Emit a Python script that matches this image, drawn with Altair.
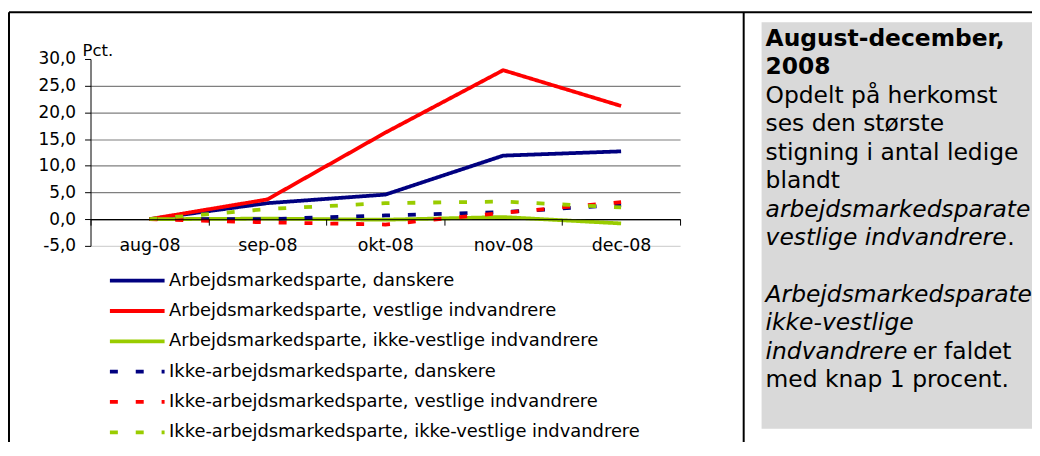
import altair as alt
import pandas as pd

# ---------------- data ----------------
months = ["aug-08", "sep-08", "okt-08", "nov-08", "dec-08"]
series = [
    "Arbejdsmarkedsparte, danskere",
    "Arbejdsmarkedsparte, vestlige indvandrere",
    "Arbejdsmarkedsparte, ikke-vestlige indvandrere",
    "Ikke-arbejdsmarkedsparte, danskere",
    "Ikke-arbejdsmarkedsparte, vestlige indvandrere",
    "Ikke-arbejdsmarkedsparte, ikke-vestlige indvandrere",
]
a_danskere = [0.0, 3.0, 4.6, 11.9, 12.7]
a_vestlige = [0.0, 3.7, 16.2, 27.9, 21.2]
a_ikke_vestlige = [0.0, 0.1, -0.1, 0.4, -0.8]
i_danskere = [0.0, 0.0, 0.7, 1.3, 2.7]
i_vestlige = [0.0, -0.6, -1.0, 1.2, 3.2]
i_ikke_vestlige = [0.0, 1.9, 3.0, 3.3, 2.2]
y_ticks = [-5, 0, 5, 10, 15, 20, 25, 30]

panel_lines = [
    "August-december,", "2008", "Opdelt på herkomst", "ses den største",
    "stigning i antal ledige", "blandt", "arbejdsmarkedsparate",
    "vestlige indvandrere", "", "Arbejdsmarkedsparate", "ikke-vestlige",
    "indvandrere", "med knap 1 procent.",
]
panel_styles = ["bold", "bold", "normal", "normal", "normal", "normal", "italic",
                "italic", "normal", "italic", "italic", "italic", "normal"]

all_values = [a_danskere, a_vestlige, a_ikke_vestlige, i_danskere, i_vestlige, i_ikke_vestlige]
rows = []
for s, vals in zip(series, all_values):
    for m, v in zip(months, vals):
        rows.append({"series": s, "month": m, "value": v})
df = pd.DataFrame(rows)

# ---------------- layout ----------------
FONT = "DejaVu Sans"
W, H = 593, 188
ZERO_OFF = H * 5 / 35

colors = ["#000080", "#ff0000", "#99cc00", "#000080", "#ff0000", "#99cc00"]
dashes = [[1, 0], [1, 0], [1, 0], [8, 18], [8, 18], [8, 18]]
widths = [3.8, 3.8, 3.8, 6, 6, 6]

legend = alt.Legend(
    title=None, orient="none", legendX=16, legendY=214,
    symbolType="M-1,0H9", symbolSize=121, symbolStrokeWidth=4.5,
    labelFont=FONT, labelFontSize=18, labelColor="black", labelLimit=0,
    labelOffset=45, rowPadding=12.5, padding=0,
)

lines = alt.Chart(df).mark_line(strokeCap="butt", strokeJoin="round").encode(
    x=alt.X(
        "month:O", sort=months, bandPosition=0.5,
        scale=alt.Scale(type="band", paddingInner=0, paddingOuter=0),
        axis=alt.Axis(
            orient="bottom", offset=-ZERO_OFF, title=None, labelAngle=0,
            domainColor="black", domainWidth=1, tickColor="black", tickSize=6,
            tickBand="extent", labelPadding=12, labelFont=FONT, labelFontSize=17.5,
            labelColor="black", grid=False, zindex=2,
        ),
    ),
    y=alt.Y(
        "value:Q",
        scale=alt.Scale(domain=[-5, 30], nice=False, zero=False),
        axis=alt.Axis(
            values=y_ticks, title=None,
            labelExpr="replace(replace(format(datum.value, '.1f'), '.', ','), '\u2212', '-')",
            labelFont=FONT, labelFontSize=17, labelColor="black", labelPadding=9,
            tickColor="black", tickSize=6, domainColor="black",
            gridColor={"condition": [
                {"test": "datum.value === 30", "value": "transparent"},
                {"test": "datum.value === -5", "value": "#d4d4d4"},
                {"test": "datum.value === 0", "value": "black"},
            ], "value": "#7f7f7f"},
            gridWidth=1.2,
        ),
    ),
    color=alt.Color("series:N", sort=series, scale=alt.Scale(domain=series, range=colors), legend=legend),
    strokeDash=alt.StrokeDash("series:N", sort=series, scale=alt.Scale(domain=series, range=dashes), legend=legend),
    strokeWidth=alt.StrokeWidth("series:N", sort=series, scale=alt.Scale(domain=series, range=widths), legend=None),
)

dummy = pd.DataFrame({"k": [0]})

# grey text box
box = alt.Chart(dummy).mark_rect(color="#d9d9d9").encode(
    x=alt.value(675), x2=alt.value(947), y=alt.value(-37), y2=alt.value(372)
)

# borders
def rule(x1, x2, y1, y2):
    return alt.Chart(dummy).mark_rule(color="black", strokeWidth=2).encode(
        x=alt.value(x1), x2=alt.value(x2), y=alt.value(y1), y2=alt.value(y2)
    )

borders = [rule(-82, 960, -47, -47), rule(-82, -82, -47, 400), rule(657, 657, -47, 400)]

pct = alt.Chart(dummy).mark_text(
    text="Pct.", font=FONT, fontSize=16.5, align="left", baseline="alphabetic", color="black"
).encode(x=alt.value(-8), y=alt.value(-3))

TX, TY0, LH, FS = 679, -13, 28.6, 23.5
text_layers = []
for i, (t, st) in enumerate(zip(panel_lines, panel_styles)):
    if not t:
        continue
    kw = dict(font=FONT, fontSize=FS, align="left", baseline="alphabetic", color="black")
    if st == "bold":
        kw["fontWeight"] = "bold"
    if st == "italic":
        kw["fontStyle"] = "italic"
    text_layers.append(
        alt.Chart(dummy).mark_text(text=t, **kw).encode(x=alt.value(TX), y=alt.value(TY0 + i * LH))
    )
text_layers.append(
    alt.Chart(dummy).mark_text(text=".", font=FONT, fontSize=FS, align="left", baseline="alphabetic", color="black")
    .encode(x=alt.value(TX + 243), y=alt.value(TY0 + 7 * LH))
)
text_layers.append(
    alt.Chart(dummy).mark_text(text="er faldet", font=FONT, fontSize=FS, align="left", baseline="alphabetic", color="black")
    .encode(x=alt.value(TX + 148), y=alt.value(TY0 + 11 * LH))
)

chart = alt.layer(box, *borders, pct, *text_layers, lines).properties(
    width=W, height=H,
    autosize=alt.AutoSizeParams(type="none"),
    padding={"left": 83, "top": 50, "right": 354, "bottom": 196},
    background="white",
).configure_view(stroke=None).configure_legend(labelFontSize=18, labelFont=FONT)

chart.save("out.html", embed_options={"renderer": "svg", "actions": False})
